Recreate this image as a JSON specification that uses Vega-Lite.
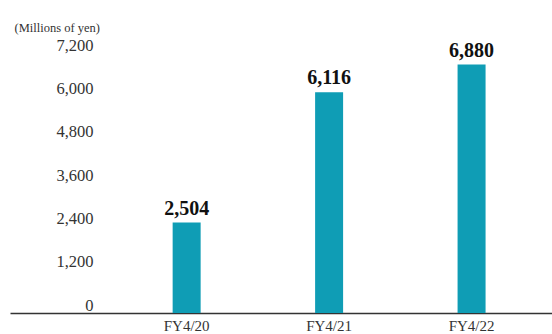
{
  "$schema": "https://vega.github.io/schema/vega-lite/v6.json",
  "autosize": "none",
  "width": 542,
  "height": 260,
  "padding": {"left": 10, "top": 53, "right": 0, "bottom": 21},
  "background": "white",
  "data": {"values": [
    {"year": "FY4/20", "value": 2504},
    {"year": "FY4/21", "value": 6116},
    {"year": "FY4/22", "value": 6880}
  ]},
  "encoding": {
    "x": {"field": "year", "type": "nominal", "sort": null,
      "scale": {"paddingInner": 0.8035, "paddingOuter": 0.804, "align": 0.71},
      "axis": {"title": null, "labelAngle": 0, "ticks": false, "labelPadding": 5,
        "labelFont": "Liberation Serif", "labelFontSize": 15, "labelColor": "#333",
        "domainColor": "#333", "domainWidth": 1.5}},
    "y": {"field": "value", "type": "quantitative",
      "scale": {"domain": [0, 7200], "nice": false},
      "axis": {"values": [0, 1200, 2400, 3600, 4800, 6000, 7200], "format": ",.0f",
        "grid": false, "domain": false, "ticks": false, "labelPadding": -83,
        "labelOffset": -8, "labelFont": "Liberation Serif", "labelFontSize": 16.5,
        "labelColor": "#333",
        "title": "(Millions of yen)", "titleAngle": 0, "titleAlign": "left",
        "titleBaseline": "middle", "titleX": 4, "titleY": -26,
        "titleFont": "Liberation Serif", "titleFontSize": 12.5, "titleFontWeight": "normal",
        "titleColor": "#333"}}
  },
  "layer": [
    {"mark": {"type": "bar", "color": "#0f9db5"}},
    {"mark": {"type": "text", "baseline": "bottom", "dy": -4, "font": "Liberation Serif",
      "fontSize": 20, "fontWeight": "bold", "color": "#111"},
     "encoding": {"text": {"field": "value", "type": "quantitative", "format": ","}}}
  ],
  "config": {"view": {"stroke": null}, "axis": {"titleFont": "Liberation Serif", "labelFont": "Liberation Serif"}}
}
